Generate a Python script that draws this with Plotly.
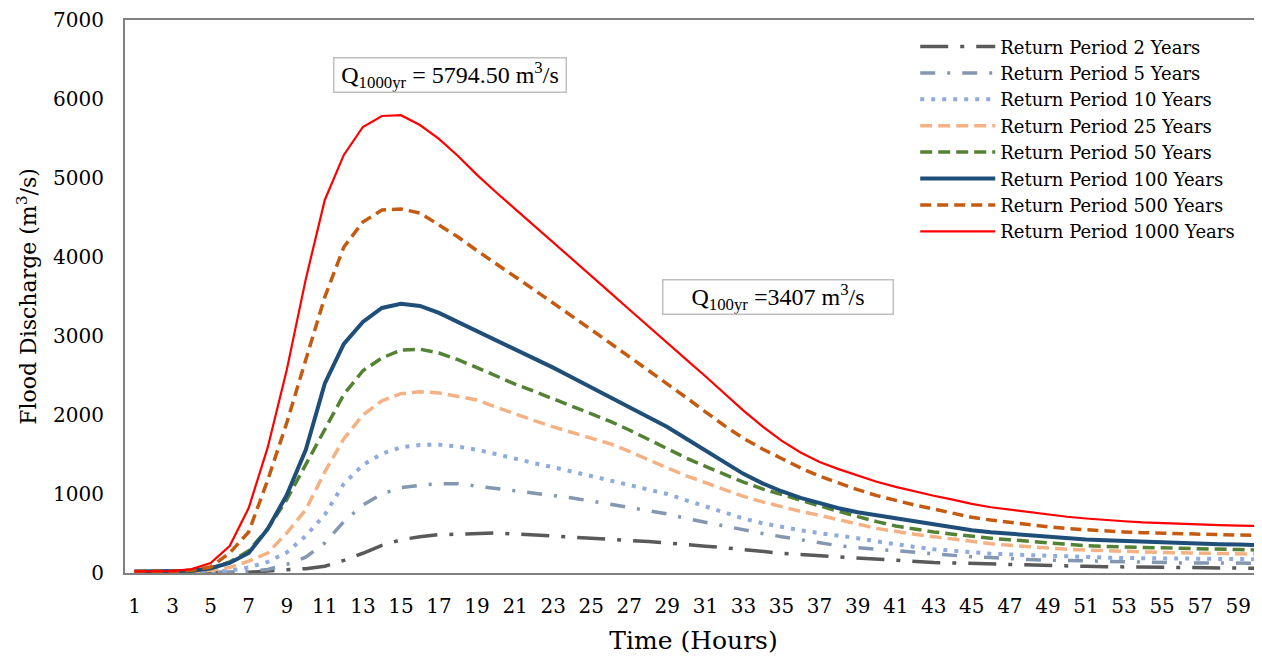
import plotly.graph_objects as go

hours = list(range(1, 61))

rp2 = [3, 3, 3, 3, 3, 5, 10, 25, 40, 55, 85, 160, 250, 350, 420, 460, 485, 495, 505, 506,
       495, 482, 472, 460, 446, 430, 415, 398, 380, 356, 340, 320, 295, 272, 250, 233, 218, 203, 186, 170,
       155, 143, 133, 127, 120, 112, 103, 96, 90, 88, 84, 80, 77, 76, 75, 70, 65, 63, 62, 60]
rp5 = [5, 5, 5, 5, 5, 8, 15, 45, 110, 200, 380, 650, 860, 1000, 1080, 1110, 1130, 1130, 1100, 1080,
       1050, 1020, 985, 950, 910, 870, 825, 785, 747, 690, 640, 590, 540, 500, 460, 420, 380, 345, 320, 300,
       280, 255, 235, 220, 205, 195, 180, 170, 163, 157, 150, 145, 140, 135, 130, 128, 127, 126, 125, 124]
rp10 = [10, 10, 10, 12, 15, 30, 70, 140, 260, 470, 740, 1130, 1367, 1510, 1590, 1620, 1625, 1600, 1560, 1505,
        1445, 1390, 1340, 1285, 1230, 1170, 1114, 1060, 1000, 920, 840, 760, 690, 630, 580, 540, 505, 475, 440, 400,
        360, 330, 300, 280, 260, 245, 235, 225, 215, 207, 200, 195, 190, 186, 182, 178, 177, 176, 176, 175]
rp25 = [15, 15, 15, 18, 30, 70, 150, 253, 506, 800, 1280, 1700, 2000, 2180, 2270, 2295, 2280, 2240, 2190, 2100,
        2010, 1930, 1850, 1780, 1710, 1635, 1540, 1430, 1330, 1230, 1140, 1050, 970, 900, 835, 780, 730, 680, 620, 565,
        525, 490, 460, 430, 395, 370, 350, 330, 315, 300, 290, 280, 272, 265, 260, 255, 250, 246, 243, 240]
rp50 = [18, 18, 18, 22, 55, 139, 280, 560, 930, 1380, 1830, 2260, 2560, 2722, 2820, 2833, 2785, 2700, 2600, 2490,
        2390, 2300, 2205, 2110, 2015, 1920, 1810, 1690, 1570, 1455, 1350, 1250, 1150, 1065, 990, 920, 850, 780, 710, 650,
        595, 555, 520, 490, 462, 440, 420, 400, 380, 360, 345, 335, 328, 322, 318, 314, 308, 302, 296, 291]
rp100 = [20, 20, 22, 30, 60, 127, 253, 557, 987, 1560, 2400, 2900, 3178, 3355, 3407, 3380, 3292, 3178, 3065, 2955,
         2840, 2720, 2600, 2475, 2350, 2230, 2110, 1980, 1848, 1700, 1550, 1395, 1255, 1135, 1035, 950, 880, 820, 770, 730,
         695, 655, 615, 578, 542, 515, 495, 475, 455, 440, 425, 415, 405, 395, 388, 380, 372, 365, 360, 354]
rp500 = [20, 20, 22, 35, 76, 253, 519, 1177, 1900, 2700, 3494, 4126, 4443, 4595, 4608, 4557, 4405, 4253, 4080, 3910,
         3750, 3585, 3420, 3250, 3080, 2910, 2740, 2570, 2400, 2220, 2040, 1865, 1705, 1570, 1450, 1330, 1225, 1135, 1055, 980,
         915, 860, 810, 760, 705, 670, 640, 610, 585, 562, 545, 530, 520, 510, 502, 495, 490, 485, 480, 476]
rp1000 = [20, 22, 25, 50, 127, 342, 823, 1590, 2570, 3720, 4722, 5292, 5646, 5785, 5794.5, 5671, 5494, 5279, 5040, 4820,
          4610, 4400, 4190, 3975, 3760, 3550, 3335, 3120, 2910, 2700, 2490, 2270, 2055, 1855, 1675, 1525, 1405, 1315, 1230, 1155,
          1090, 1030, 978, 928, 875, 832, 800, 770, 740, 712, 690, 670, 655, 640, 630, 620, 612, 605, 600, 595]

names = ["Return Period 2 Years", "Return Period 5 Years", "Return Period 10 Years",
         "Return Period 25 Years", "Return Period 50 Years", "Return Period 100 Years",
         "Return Period 500 Years", "Return Period 1000 Years"]
series = [rp2, rp5, rp10, rp25, rp50, rp100, rp500, rp1000]
styles = [
    dict(color="#595959", width=3.5, dash="28px,12px,4px,12px"),
    dict(color="#8497B0", width=3.5, dash="15px,12px,3px,12px"),
    dict(color="#8FAADC", width=4, dash="4px,7px"),
    dict(color="#F4B183", width=3.5, dash="12px,6px"),
    dict(color="#548235", width=3.5, dash="12px,6px"),
    dict(color="#1F4E79", width=4, dash="solid"),
    dict(color="#C55A11", width=3.5, dash="11px,6px"),
    dict(color="#FF0000", width=2.2, dash="solid"),
]

fig = go.Figure()
for n, s, st in zip(names, series, styles):
    fig.add_trace(go.Scatter(x=hours, y=s, name=n, mode="lines", line=st))

tickfont = dict(family="DejaVu Serif", size=20, color="#000000")
# page body has an 8px margin, so the figure is sized to fit the 1262x657 window
fig.update_layout(
    width=1254, height=649,
    margin=dict(l=117, r=0, t=12, b=84),
    paper_bgcolor="white", plot_bgcolor="white",
    font=dict(family="DejaVu Serif", color="#000000"),
    showlegend=True,
    legend=dict(x=0.695, y=0.985, xanchor="left", yanchor="top",
                font=dict(family="DejaVu Serif", size=18, color="#000000"),
                bgcolor="rgba(0,0,0,0)", itemwidth=75, traceorder="normal"),
    xaxis=dict(range=[0.5, 60.25], tickvals=list(range(1, 60, 2)), tickfont=tickfont,
               showgrid=False, zeroline=False, showline=True, linecolor="#808080", linewidth=2,
               mirror=True, ticks="", ticklen=0, ticklabelstandoff=14,
               title=dict(text="Time (Hours)", font=dict(family="DejaVu Serif", size=25), standoff=14)),
    yaxis=dict(range=[0, 7000], tickvals=list(range(0, 7001, 1000)), tickfont=tickfont,
               showgrid=False, zeroline=False, showline=True, linecolor="#808080", linewidth=2,
               ticks="", ticklen=0, ticklabelstandoff=15,
               title=dict(text="Flood Discharge (m<sup>3</sup>/s)", font=dict(family="DejaVu Serif", size=22), standoff=10)),
)

fig.add_annotation(x=17.6, y=6304, xref="x", yref="y",
                   text="Q<sub>1000yr</sub> = 5794.50 m<sup>3</sup>/s",
                   showarrow=False, font=dict(family="Liberation Serif", size=24, color="#000000"),
                   bordercolor="#BFBFBF", borderwidth=1.5, borderpad=0, width=231, height=33,
                   bgcolor="white")
fig.add_annotation(x=34.8, y=3494, xref="x", yref="y",
                   text="Q<sub>100yr</sub> =3407 m<sup>3</sup>/s",
                   showarrow=False, font=dict(family="Liberation Serif", size=24, color="#000000"),
                   bordercolor="#BFBFBF", borderwidth=1.5, borderpad=0, width=229, height=33,
                   bgcolor="white")

fig.write_html("out.html")
